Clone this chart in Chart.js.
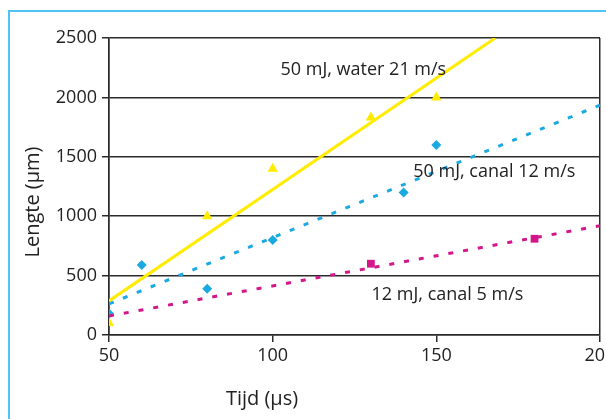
<!DOCTYPE html>
<html>
<head>
<meta charset="utf-8">
<script src="https://cdn.jsdelivr.net/npm/chart.js@4/dist/chart.umd.min.js"></script>
<style>
  html, body { margin: 0; padding: 0; background: #ffffff; overflow: hidden; }
  #frame { position: absolute; left: 8px; top: 10px; width: 700px; height: 520px; border: 2px solid #4fc4f0; }
  #wrap { position: absolute; left: 0; top: 0; width: 606px; height: 419px; }
</style>
</head>
<body>
<div id="frame"></div>
<div id="wrap"><canvas id="c" width="606" height="419"></canvas></div>
<script>
// ---- data ----
const timeWater = [50, 80, 100, 130, 150];
const lenWater = [100, 1000, 1400, 1830, 2000];

const timeCanal12 = [50, 60, 80, 100, 140, 150];
const lenCanal12 = [180, 590, 390, 800, 1200, 1600];

const timeCanal5 = [130, 180];
const lenCanal5 = [600, 810];

// trend lines (end points)
const trendWaterX = [50, 168];
const trendWaterY = [287, 2500];
const trendCanal12X = [50, 200];
const trendCanal12Y = [262, 1935];
const trendCanal5X = [50, 200];
const trendCanal5Y = [160, 920];

const xTicks = [50, 100, 150, 200];
const yTicks = [0, 500, 1000, 1500, 2000, 2500];

const labels = [
  { text: '50 mJ, water 21 m/s', x: 127.7, y: 2234 },
  { text: '50 mJ, canal 12 m/s', x: 167.7, y: 1374 },
  { text: '12 mJ, canal 5 m/s', x: 153.4, y: 337 }
];
const xTitle = 'Tijd (µs)';
const yTitle = 'Lengte (µm)';

// ---- styling ----
const YELLOW = '#ffec00';
const BLUE = '#1ba9e2';
const PINK = '#d4168b';
const GRID = '#2b2b2b';
const TEXT = '#222222';
const FONT = "'Open Sans', sans-serif";

const pts = (xs, ys) => xs.map((x, i) => ({ x: x, y: ys[i] }));

const textPlugin = {
  id: 'texts',
  afterDraw(chart) {
    const ctx = chart.ctx;
    const xs = chart.scales.x, ys = chart.scales.y;
    ctx.save();
    ctx.fillStyle = TEXT;
    ctx.font = '18px ' + FONT;
    ctx.textAlign = 'center';
    ctx.textBaseline = 'middle';
    labels.forEach(l => {
      ctx.fillText(l.text, xs.getPixelForValue(l.x), ys.getPixelForValue(l.y));
    });
    ctx.font = '20px ' + FONT;
    ctx.fillText(xTitle, 262, 399);
    ctx.translate(33, 202);
    ctx.rotate(-Math.PI / 2);
    ctx.fillText(yTitle, 0, 0);
    ctx.restore();
  }
};

new Chart(document.getElementById('c'), {
  type: 'scatter',
  data: {
    datasets: [
      { data: pts(trendWaterX, trendWaterY), showLine: true, borderColor: YELLOW, borderWidth: 3,
        pointRadius: 0, clip: 0, order: 1 },
      { data: pts(trendCanal12X, trendCanal12Y), showLine: true, borderColor: BLUE, borderWidth: 3,
        borderDash: [5, 10], borderCapStyle: 'butt', pointRadius: 0, clip: 0, order: 2 },
      { data: pts(trendCanal5X, trendCanal5Y), showLine: true, borderColor: PINK, borderWidth: 3,
        borderDash: [5, 10], borderCapStyle: 'butt', pointRadius: 0, clip: 0, order: 3 },
      { data: pts(timeWater, lenWater), pointStyle: 'triangle', pointRadius: 6,
        backgroundColor: YELLOW, borderColor: YELLOW, borderWidth: 0, order: 4 },
      { data: pts(timeCanal12, lenCanal12), pointStyle: 'rectRot', pointRadius: 5,
        backgroundColor: BLUE, borderColor: BLUE, borderWidth: 0, order: 5 },
      { data: pts(timeCanal5, lenCanal5), pointStyle: 'rect', pointRadius: 5.5,
        backgroundColor: PINK, borderColor: PINK, borderWidth: 0, order: 6 }
    ]
  },
  options: {
    responsive: false,
    animation: false,
    events: [],
    layout: { padding: { top: 38, right: 6, left: 0, bottom: 0 } },
    plugins: { legend: { display: false }, tooltip: { enabled: false } },
    scales: {
      x: {
        type: 'linear', min: 50, max: 200,
        afterBuildTicks: s => { s.ticks = xTicks.map(v => ({ value: v })); },
        afterFit: s => { s.height = 84; s.paddingLeft = 0; s.paddingRight = 0; },
        ticks: { color: TEXT, font: { family: FONT, size: 18 }, padding: 3, maxRotation: 0, autoSkip: false,
                 callback: v => String(v) },
        grid: {
          color: c => (c.tick && (c.tick.value === 200 || c.tick.value === 50)) ? GRID : 'rgba(0,0,0,0)',
          tickColor: GRID, lineWidth: 1.5, tickLength: 7
        },
        border: { display: true, color: GRID, width: 1.5 }
      },
      y: {
        type: 'linear', min: 0, max: 2500,
        afterBuildTicks: s => { s.ticks = yTicks.map(v => ({ value: v })); },
        afterFit: s => { s.width = 109; s.paddingTop = 0; s.paddingBottom = 0; },
        ticks: { color: TEXT, font: { family: FONT, size: 18 }, padding: 5, callback: v => String(v) },
        grid: { color: GRID, tickColor: GRID, lineWidth: 1.5, tickLength: 7 },
        border: { display: true, color: GRID, width: 1.5 }
      }
    }
  },
  plugins: [textPlugin]
});
</script>
</body>
</html>
